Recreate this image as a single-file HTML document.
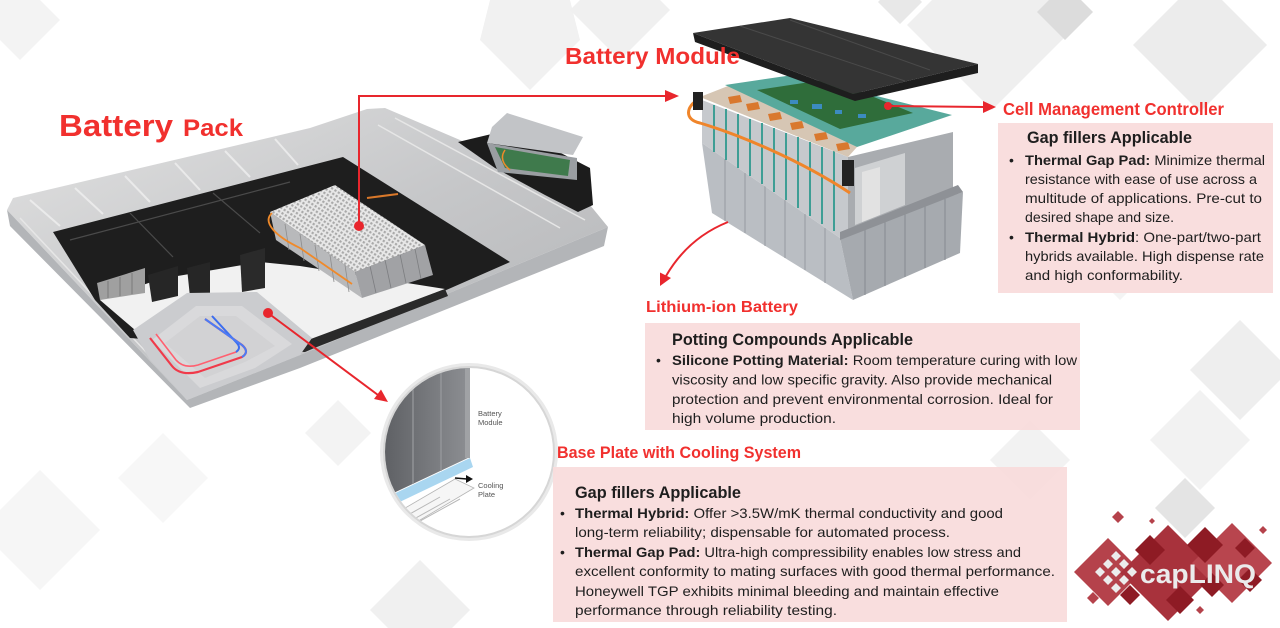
<!DOCTYPE html>
<html><head><meta charset="utf-8">
<style>
html,body{margin:0;padding:0;background:#fff;width:1280px;height:628px;overflow:hidden;}
svg{display:block;position:absolute;left:0;top:0;overflow:hidden;}
text{font-family:"Liberation Sans",Arial,sans-serif;}
.r{fill:#f1302e;font-weight:bold;}
.t{fill:#1e1e1e;font-size:14px;}
.h{fill:#1e1e1e;font-size:17px;font-weight:bold;}
.b{font-weight:bold;}
</style></head>
<body>
<svg width="1280" height="628" viewBox="0 0 1280 628" xmlns="http://www.w3.org/2000/svg">
<defs>
  <linearGradient id="silver" x1="0" y1="0" x2="1" y2="1">
    <stop offset="0" stop-color="#e2e2e2"/>
    <stop offset="0.5" stop-color="#c6c7c9"/>
    <stop offset="1" stop-color="#b2b3b5"/>
  </linearGradient>
  <linearGradient id="panel" x1="0" y1="0" x2="1" y2="0">
    <stop offset="0" stop-color="#5f6165"/>
    <stop offset="1" stop-color="#8d8f93"/>
  </linearGradient>
  <pattern id="grid" patternUnits="userSpaceOnUse" width="4" height="4" patternTransform="rotate(33)">
    <rect width="4" height="4" fill="#e8e8e8"/>
    <rect x="0" y="0" width="2.2" height="2.2" fill="#a9a9a9"/>
  </pattern>
  <clipPath id="cc"><circle cx="469" cy="452" r="84"/></clipPath>
</defs>

<!-- background diamonds (kept inside frame) -->
<g>
  <polygon points="932,0 1052,0 1077,25 992,110 907,25" fill="#efefef"/>
  <polygon points="1178,0 1222,0 1267,45 1200,112 1133,45" fill="#ececec"/>
  <polygon points="1049,0 1081,0 1093,12 1065,40 1037,12" fill="#dcdcdc"/>
  <polygon points="880,0 920,0 922,2 900,24 878,2" fill="#e8e8e8"/>
  <polygon points="490,0 570,0 580,40 530,90 480,40" fill="#f1f1f1"/>
  <polygon points="580,0 660,0 670,10 620,60 570,10" fill="#f0f0f0"/>
  <polygon points="0,0 40,0 60,20 20,60 0,40" fill="#f3f3f3"/>
  <polygon points="163,433 208,478 163,523 118,478" fill="#f7f7f7"/>
  <polygon points="338,400 371,433 338,466 305,433" fill="#f3f3f3"/>
  <polygon points="420,560 470,610 452,628 388,628 370,610" fill="#f0f0f0"/>
  <polygon points="1240,320 1280,360 1280,380 1240,420 1190,370" fill="#eeeeee"/>
  <polygon points="1200,390 1250,440 1200,490 1150,440" fill="#f2f2f2"/>
  <polygon points="1185,478 1215,508 1185,538 1155,508" fill="#e4e4e4"/>
  <polygon points="40,470 100,530 40,590 0,550 0,510" fill="#f6f6f6"/>
  <polygon points="1120,200 1170,250 1120,300 1070,250" fill="#f4f4f4"/>
  <polygon points="1030,420 1070,460 1030,500 990,460" fill="#f2f2f2"/>
</g>

<!-- ============ BATTERY PACK ============ -->
<g>
  <polygon points="7,210 13,198 310,128 367,109 385,108 460,140 590,205 608,227 300,355 187,400" fill="url(#silver)"/>
  <polygon points="7,210 187,400 300,355 608,227 604,246 300,368 190,408 10,226" fill="#b3b5b8"/>
  <g stroke="#f0f0f0" stroke-width="2" opacity="0.8">
    <line x1="30" y1="200" x2="60" y2="226"/>
    <line x1="75" y1="188" x2="103" y2="214"/>
    <line x1="125" y1="176" x2="150" y2="202"/>
    <line x1="175" y1="163" x2="200" y2="190"/>
    <line x1="225" y1="151" x2="250" y2="177"/>
    <line x1="275" y1="139" x2="298" y2="165"/>
  </g>
  <g stroke="#e6e6e6" stroke-width="1.5">
    <line x1="395" y1="118" x2="585" y2="220"/>
    <line x1="378" y1="125" x2="560" y2="228"/>
    <line x1="20" y1="218" x2="180" y2="388"/>
  </g>
  <polygon points="53,232 343,157 510,262 305,352 130,338 95,300" fill="#1e1e1e"/>
  <g stroke="#4a4a4a" stroke-width="1.2">
    <line x1="130" y1="213" x2="173" y2="257"/>
    <line x1="213" y1="193" x2="260" y2="233"/>
    <line x1="70" y1="240" x2="290" y2="182"/>
  </g>
  <polygon points="100,300 160,279 260,262 300,266 445,289 320,337 300,343 262,300 190,296 135,330" fill="#f1f1f1"/>
  <polygon points="300,343 445,289 448,296 304,352" fill="#2a2a2a"/>
  <polygon points="97,283 145,268 145,293 100,300" fill="#a0a0a0"/>
  <g stroke="#7a7a7a" stroke-width="1"><line x1="108" y1="281" x2="108" y2="298"/><line x1="120" y1="277" x2="120" y2="296"/><line x1="132" y1="273" x2="132" y2="294"/></g>
  <polygon points="148,275 178,266 178,296 152,302" fill="#262626"/>
  <polygon points="187,268 210,262 210,293 190,297" fill="#262626"/>
  <polygon points="240,255 265,248 265,288 242,292" fill="#2a2a2a"/>
  <polygon points="133,330 187,293 257,292 312,338 300,355 187,400 178,390 150,360" fill="#cbcccf"/>
  <polygon points="152,340 196,306 242,306 292,344 255,368 200,388" fill="#d9d9db"/>
  <polygon points="165,343 200,316 236,316 275,346 245,362 205,378" fill="#d2d2d4"/>
  <path d="M150,338 L172,366 Q180,376 198,372 L242,357 Q250,352 242,345 L205,319" fill="none" stroke="#f03a4a" stroke-width="2.2"/>
  <path d="M156,334 L176,360 Q184,369 198,365 L236,352 Q242,348 236,342 L212,316" fill="none" stroke="#ff6070" stroke-width="1.6"/>
  <path d="M236,352 Q242,348 236,342 L212,316" fill="none" stroke="#3a6ef0" stroke-width="2"/>
  <path d="M242,357 Q250,352 242,345 L205,319" fill="none" stroke="#4a7cf6" stroke-width="2"/>
  <polygon points="270,212 355,272 362,298 276,240" fill="#b8b9bb"/>
  <g stroke="#8c8c8c" stroke-width="0.8">
    <line x1="285" y1="224" x2="289" y2="250"/><line x1="300" y1="234" x2="304" y2="261"/>
    <line x1="315" y1="245" x2="319" y2="271"/><line x1="330" y1="255" x2="334" y2="282"/>
    <line x1="345" y1="265" x2="349" y2="292"/>
  </g>
  <polygon points="355,272 425,245 433,275 362,298" fill="#a1a2a5"/>
  <g stroke="#7c7d80" stroke-width="0.8">
    <line x1="370" y1="266" x2="376" y2="293"/><line x1="385" y1="260" x2="391" y2="288"/>
    <line x1="400" y1="254" x2="406" y2="283"/><line x1="415" y1="249" x2="421" y2="279"/>
  </g>
  <polygon points="270,212 335,185 425,245 355,272" fill="url(#grid)"/>
  <path d="M272,213 C262,222 275,236 300,248 L352,284" fill="none" stroke="#f08a2a" stroke-width="1.8"/>
  <line x1="367" y1="198" x2="398" y2="194" stroke="#d9782a" stroke-width="2"/>
  <polygon points="458,142 500,132 555,150 590,168 593,205 578,212 545,195 495,168" fill="#1c1c1c"/>
  <polygon points="487,143 577,158 577,180 498,172" fill="#9a9ea2"/>
  <polygon points="495,147 570,160 568,176 505,168" fill="#3f7a4c"/>
  <path d="M505,150 Q498,160 510,170" fill="none" stroke="#f08a2a" stroke-width="1.5"/>
  <polygon points="507,113 583,137 573,155 487,143 492,127" fill="#c2c4c7"/>
</g>

<!-- ============ BATTERY MODULE (right) ============ -->
<g>
  <polygon points="702,143 840,238 853,300 712,213" fill="#babec3"/>
  <g stroke="#979ba0" stroke-width="1">
    <line x1="725" y1="159" x2="725" y2="221"/><line x1="745" y1="173" x2="745" y2="233"/>
    <line x1="765" y1="186" x2="765" y2="246"/><line x1="785" y1="200" x2="785" y2="258"/>
    <line x1="805" y1="214" x2="805" y2="270"/><line x1="825" y1="228" x2="825" y2="283"/>
  </g>
  <polygon points="840,238 963,192 960,253 853,300" fill="#a6aaaf"/>
  <g stroke="#878b90" stroke-width="1">
    <line x1="865" y1="229" x2="865" y2="295"/><line x1="885" y1="221" x2="885" y2="286"/>
    <line x1="905" y1="214" x2="905" y2="277"/><line x1="925" y1="206" x2="925" y2="268"/>
    <line x1="945" y1="199" x2="945" y2="260"/>
  </g>
  <polygon points="702,100 848,157 848,232 840,238 702,143" fill="#c6c9cd"/>
  <g stroke="#3e9e95" stroke-width="2">
    <line x1="714" y1="105" x2="714" y2="152"/><line x1="726" y1="109" x2="726" y2="160"/>
    <line x1="738" y1="114" x2="738" y2="168"/><line x1="750" y1="119" x2="750" y2="176"/>
    <line x1="762" y1="123" x2="762" y2="184"/><line x1="774" y1="128" x2="774" y2="192"/>
    <line x1="786" y1="133" x2="786" y2="200"/><line x1="798" y1="137" x2="798" y2="208"/>
    <line x1="810" y1="142" x2="810" y2="216"/><line x1="822" y1="147" x2="822" y2="224"/>
    <line x1="834" y1="151" x2="834" y2="231"/>
  </g>
  <polygon points="848,157 953,132 953,190 848,232" fill="#a9acb0"/>
  <polygon points="855,168 905,153 905,205 855,225" fill="#cfd1d3"/>
  <polygon points="862,172 880,167 880,215 862,222" fill="#e2e2e2"/>
  <polygon points="840,232 958,185 963,192 840,240" fill="#8e9196"/>
  <polygon points="700,97 728,86 857,147 848,157" fill="#d6c6b4"/>
  <g fill="#d9782e">
    <polygon points="728,97 740,95 742,102 730,104"/>
    <polygon points="746,104 758,102 760,109 748,111"/>
    <polygon points="768,114 780,112 782,119 770,121"/>
    <polygon points="790,123 802,121 804,128 792,130"/>
    <polygon points="814,134 826,132 828,139 816,141"/>
    <polygon points="836,144 848,142 850,149 838,151"/>
  </g>
  <polygon points="725,85 793,75 952,115 857,147" fill="#58a99c"/>
  <polygon points="757,90 830,79 913,113 840,129" fill="#2f6d3a"/>
  <g fill="#3c8bc0">
    <rect x="790" y="100" width="8" height="4"/><rect x="812" y="104" width="10" height="5"/>
    <rect x="835" y="110" width="7" height="4"/><rect x="858" y="114" width="8" height="4"/>
  </g>
  <polygon points="693,33 790,18 978,64 853,94" fill="#343434"/>
  <polygon points="693,33 853,94 978,64 978,73 855,101 695,42" fill="#1e1e1e"/>
  <g stroke="#4a4a4a" stroke-width="1"><line x1="740" y1="26" x2="905" y2="81"/><line x1="790" y1="20" x2="930" y2="70"/></g>
  <path d="M698,100 C686,106 684,120 700,123 C740,135 800,160 850,193" fill="none" stroke="#f0852a" stroke-width="3"/>
  <rect x="693" y="92" width="10" height="18" fill="#222"/>
  <rect x="842" y="160" width="12" height="26" fill="#222"/>
</g>

<!-- ============ INSET CIRCLE ============ -->
<g>
  <circle cx="469" cy="452" r="89" fill="#e9e9e9"/>
  <circle cx="469" cy="452" r="86" fill="#d6d6d6"/>
  <circle cx="469" cy="452" r="84" fill="#ffffff"/>
  <g clip-path="url(#cc)">
    <polygon points="385,368 470,368 470,457 385,497" fill="url(#panel)"/>
    <rect x="465" y="368" width="5" height="90" fill="#a0a2a5"/>
    <g stroke="#9a9c9f" stroke-width="1.2"><line x1="413" y1="368" x2="413" y2="484"/><line x1="441" y1="368" x2="441" y2="471"/></g>
    <polygon points="385,498 470,458 473,467 385,509" fill="#a9d6f0"/>
    <polygon points="388,518 455,479 474,488 410,526 392,534" fill="#f6f6f6" stroke="#b5b5b5" stroke-width="0.8"/>
    <g stroke="#b8b8b8" stroke-width="1">
      <line x1="392" y1="524" x2="440" y2="497"/><line x1="396" y1="529" x2="450" y2="499"/>
      <line x1="402" y1="531" x2="460" y2="499"/>
    </g>
    <line x1="455" y1="478" x2="467" y2="479" stroke="#111" stroke-width="1.5"/>
    <polygon points="473,479 466,475 466,483" fill="#111"/>
    <text x="478" y="416" font-size="7.5" fill="#555">Battery</text>
    <text x="478" y="425" font-size="7.5" fill="#555">Module</text>
    <text x="478" y="488" font-size="7.5" fill="#555">Cooling</text>
    <text x="478" y="497" font-size="7.5" fill="#555">Plate</text>
  </g>
</g>

<!-- ============ RED CONNECTORS ============ -->
<g fill="#e8262d" stroke="none">
  <polyline points="359,226 359,96 666,96" fill="none" stroke="#e8262d" stroke-width="2"/>
  <polygon points="679,96 665,90 665,102"/>
  <circle cx="359" cy="226" r="5"/>
  <line x1="268" y1="313" x2="378" y2="395" stroke="#e8262d" stroke-width="2"/>
  <polygon points="388,402 374,399 381,389.5"/>
  <circle cx="268" cy="313" r="5"/>
  <line x1="888" y1="106" x2="984" y2="107" stroke="#e8262d" stroke-width="2"/>
  <polygon points="996,107 983,101 983,113"/>
  <circle cx="888" cy="106" r="4"/>
  <path d="M728,222 Q688,238 666,276" fill="none" stroke="#e8262d" stroke-width="2"/>
  <polygon points="660,286 671,278 660,272.5"/>
</g>

<!-- ============ LABELS ============ -->
<text class="r" x="59" y="136" font-size="31" textLength="114" lengthAdjust="spacingAndGlyphs">Battery</text>
<text class="r" x="183" y="136" font-size="24" textLength="60" lengthAdjust="spacingAndGlyphs">Pack</text>
<text class="r" x="565" y="64" font-size="23" textLength="175" lengthAdjust="spacingAndGlyphs">Battery Module</text>
<text class="r" x="1003" y="115" font-size="17.5" textLength="221" lengthAdjust="spacingAndGlyphs">Cell Management Controller</text>
<text class="r" x="646" y="312" font-size="16" textLength="152" lengthAdjust="spacingAndGlyphs">Lithium-ion Battery</text>
<text class="r" x="557" y="458" font-size="16.5" textLength="244" lengthAdjust="spacingAndGlyphs">Base Plate with Cooling System</text>

<!-- ============ BOX: Cell Management ============ -->
<rect x="998" y="123" width="275" height="170" fill="#f9dcdc" opacity="0.93"/>
<text class="h" x="1027" y="143" textLength="165" lengthAdjust="spacingAndGlyphs">Gap fillers Applicable</text>
<text class="t" x="1009" y="165">•</text>
<text class="t" x="1025" y="165" textLength="240" lengthAdjust="spacingAndGlyphs"><tspan class="b">Thermal Gap Pad:</tspan> Minimize thermal</text>
<text class="t" x="1025" y="184" textLength="232" lengthAdjust="spacingAndGlyphs">resistance with ease of use across a</text>
<text class="t" x="1025" y="203" textLength="237" lengthAdjust="spacingAndGlyphs">multitude of applications. Pre-cut to</text>
<text class="t" x="1025" y="222" textLength="149" lengthAdjust="spacingAndGlyphs">desired shape and size.</text>
<text class="t" x="1009" y="242">•</text>
<text class="t" x="1025" y="242" textLength="236" lengthAdjust="spacingAndGlyphs"><tspan class="b">Thermal Hybrid</tspan>: One-part/two-part</text>
<text class="t" x="1025" y="261" textLength="239" lengthAdjust="spacingAndGlyphs">hybrids available. High dispense rate</text>
<text class="t" x="1025" y="280" textLength="158" lengthAdjust="spacingAndGlyphs">and high conformability.</text>

<!-- ============ BOX: Lithium-ion ============ -->
<rect x="645" y="323" width="435" height="107" fill="#f9dcdc" opacity="0.93"/>
<text class="h" x="672" y="345" textLength="241" lengthAdjust="spacingAndGlyphs">Potting Compounds Applicable</text>
<text class="t" x="656" y="365">•</text>
<text class="t" x="672" y="365" textLength="405" lengthAdjust="spacingAndGlyphs"><tspan class="b">Silicone Potting Material:</tspan> Room temperature curing with low</text>
<text class="t" x="672" y="384.5" textLength="380" lengthAdjust="spacingAndGlyphs">viscosity and low specific gravity. Also provide mechanical</text>
<text class="t" x="672" y="404" textLength="381" lengthAdjust="spacingAndGlyphs">protection and prevent environmental corrosion. Ideal for</text>
<text class="t" x="672" y="423" textLength="164" lengthAdjust="spacingAndGlyphs">high volume production.</text>

<!-- ============ BOX: Base Plate ============ -->
<rect x="553" y="467" width="514" height="155" fill="#f9dcdc" opacity="0.93"/>
<text class="h" x="575" y="498" textLength="166" lengthAdjust="spacingAndGlyphs">Gap fillers Applicable</text>
<text class="t" x="560" y="518">•</text>
<text class="t" x="575" y="518" textLength="428" lengthAdjust="spacingAndGlyphs"><tspan class="b">Thermal Hybrid:</tspan> Offer &gt;3.5W/mK thermal conductivity and good</text>
<text class="t" x="575" y="537" textLength="375" lengthAdjust="spacingAndGlyphs">long-term reliability; dispensable for automated process.</text>
<text class="t" x="560" y="557">•</text>
<text class="t" x="575" y="557" textLength="446" lengthAdjust="spacingAndGlyphs"><tspan class="b">Thermal Gap Pad:</tspan> Ultra-high compressibility enables low stress and</text>
<text class="t" x="575" y="576" textLength="480" lengthAdjust="spacingAndGlyphs">excellent conformity to mating surfaces with good thermal performance.</text>
<text class="t" x="575" y="596" textLength="424" lengthAdjust="spacingAndGlyphs">Honeywell TGP exhibits minimal bleeding and maintain effective</text>
<text class="t" x="575" y="615" textLength="262" lengthAdjust="spacingAndGlyphs">performance through reliability testing.</text>

<!-- ============ LOGO ============ -->
<g>
  <polygon points="1074,572 1108,538 1142,572 1108,606" fill="#b5424b"/>
  <polygon points="1120,573 1168,525 1216,573 1168,621" fill="#a8323c"/>
  <polygon points="1192,563 1232,523 1272,563 1232,603" fill="#b8454e"/>
  <g fill="#8e1b24">
    <polygon points="1135,550 1150,535 1165,550 1150,565"/>
    <polygon points="1187,545 1205,527 1223,545 1205,563"/>
    <polygon points="1235,548 1245,538 1255,548 1245,558"/>
    <polygon points="1166,600 1180,586 1194,600 1180,614"/>
    <polygon points="1120,595 1130,585 1140,595 1130,605"/>
    <polygon points="1238,580 1250,568 1262,580 1250,592"/>
    <polygon points="1200,585 1212,573 1224,585 1212,597"/>
  </g>
  <g fill="#b5424b">
    <polygon points="1118,511 1124,517 1118,523 1112,517"/>
    <polygon points="1152,518 1155,521 1152,524 1149,521"/>
    <polygon points="1093,592 1099,598 1093,604 1087,598"/>
    <polygon points="1200,606 1204,610 1200,614 1196,610"/>
    <polygon points="1263,526 1267,530 1263,534 1259,530"/>
  </g>
  <g fill="#ececec">
    <polygon points="1100,567 1105,572 1100,577 1095,572"/>
    <polygon points="1108,559 1113,564 1108,569 1103,564"/>
    <polygon points="1108,575 1113,580 1108,585 1103,580"/>
    <polygon points="1116,567 1121,572 1116,577 1111,572"/>
    <polygon points="1116,551 1121,556 1116,561 1111,556"/>
    <polygon points="1116,583 1121,588 1116,593 1111,588"/>
    <polygon points="1124,559 1129,564 1124,569 1119,564"/>
    <polygon points="1124,575 1129,580 1124,585 1119,580"/>
    <polygon points="1132,567 1137,572 1132,577 1127,572"/>
  </g>
  <text x="1140" y="583" font-size="27" font-weight="bold" fill="#ebebeb" textLength="116" lengthAdjust="spacingAndGlyphs">capLINQ</text>
</g>
</svg>
</body></html>
